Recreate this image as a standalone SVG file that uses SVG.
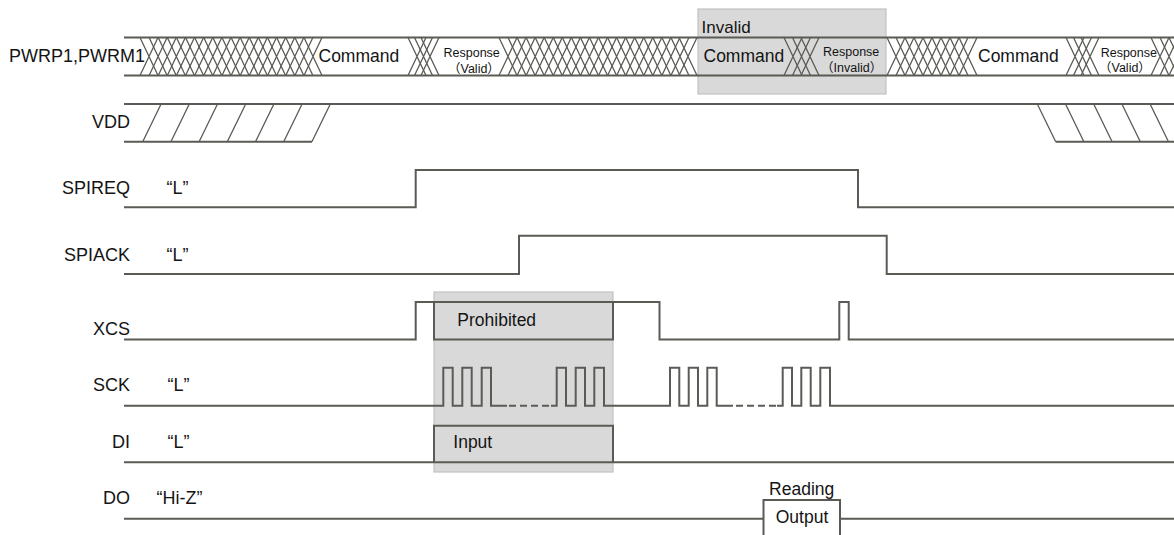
<svg xmlns="http://www.w3.org/2000/svg" xmlns:xlink="http://www.w3.org/1999/xlink" width="1174" height="535" viewBox="0 0 1174 535">
<style>
.ln{fill:none;stroke:#5b5b55;stroke-width:2;stroke-linejoin:miter;stroke-linecap:butt}
.hx{fill:none;stroke:#5b5b55;stroke-width:1.3}
.dash{fill:none;stroke:#5b5b55;stroke-width:2;stroke-dasharray:7 4}
.shade{fill:#d9d9d9;stroke:#c2c2c2;stroke-width:1.2}
.lbl{font-family:"Liberation Sans",Arial,sans-serif;font-size:18px;fill:#141414;text-anchor:end}
.lv{font-family:"Liberation Sans",Arial,sans-serif;font-size:18px;fill:#141414}
.val{font-family:"Liberation Sans",Arial,sans-serif;font-size:17.5px;fill:#141414}
.sm{font-family:"Liberation Sans","Noto Sans CJK SC",Arial,sans-serif;font-size:12.5px;fill:#141414}
</style>
<defs>
<path id="xx" d="M0,37.5 L18,75.5 M18,37.5 L0,75.5" class="hx"/>
</defs>

<g id="shading">
<rect class="shade" x="698" y="9" width="188" height="85"/>
<rect class="shade" x="434" y="292" width="179" height="180"/>
</g>

<g id="labels">
<text class="lv" x="9" y="62">PWRP1,PWRM1</text>
<text class="lbl" x="130" y="127.5">VDD</text>
<text class="lbl" x="130" y="194">SPIREQ</text>
<text class="lbl" x="130" y="260.5">SPIACK</text>
<text class="lbl" x="130" y="334.5">XCS</text>
<text class="lbl" x="130" y="391">SCK</text>
<text class="lbl" x="130" y="447.7">DI</text>
<text class="lbl" x="130" y="504.3">DO</text>
<text class="lv" x="166.5" y="194">“L”</text>
<text class="lv" x="166.5" y="260.5">“L”</text>
<text class="lv" x="167.5" y="391">“L”</text>
<text class="lv" x="167.5" y="447.7">“L”</text>
<text class="lv" x="156.5" y="504.3">“Hi-Z”</text>
</g>

<g id="bus">
<path class="ln" d="M124,37.5 H1174 M124,75.5 H1174"/>
<g id="hatch1">
<use xlink:href="#xx" x="140"/><use xlink:href="#xx" x="149.11"/><use xlink:href="#xx" x="158.22"/><use xlink:href="#xx" x="167.33"/><use xlink:href="#xx" x="176.44"/><use xlink:href="#xx" x="185.56"/><use xlink:href="#xx" x="194.67"/><use xlink:href="#xx" x="203.78"/><use xlink:href="#xx" x="212.89"/><use xlink:href="#xx" x="222"/><use xlink:href="#xx" x="231.11"/><use xlink:href="#xx" x="240.22"/><use xlink:href="#xx" x="249.33"/><use xlink:href="#xx" x="258.44"/><use xlink:href="#xx" x="267.56"/><use xlink:href="#xx" x="276.67"/><use xlink:href="#xx" x="285.78"/><use xlink:href="#xx" x="294.89"/><use xlink:href="#xx" x="304"/>
</g>
<g id="hatch2">
<use xlink:href="#xx" x="408"/><use xlink:href="#xx" x="414.5"/><use xlink:href="#xx" x="421"/>
</g>
<g id="hatch3">
<use xlink:href="#xx" x="499"/><use xlink:href="#xx" x="508.05"/><use xlink:href="#xx" x="517.1"/><use xlink:href="#xx" x="526.15"/><use xlink:href="#xx" x="535.2"/><use xlink:href="#xx" x="544.25"/><use xlink:href="#xx" x="553.3"/><use xlink:href="#xx" x="562.35"/><use xlink:href="#xx" x="571.4"/><use xlink:href="#xx" x="580.45"/><use xlink:href="#xx" x="589.5"/><use xlink:href="#xx" x="598.55"/><use xlink:href="#xx" x="607.6"/><use xlink:href="#xx" x="616.65"/><use xlink:href="#xx" x="625.7"/><use xlink:href="#xx" x="634.75"/><use xlink:href="#xx" x="643.8"/><use xlink:href="#xx" x="652.85"/><use xlink:href="#xx" x="661.9"/><use xlink:href="#xx" x="670.95"/><use xlink:href="#xx" x="679"/>
</g>
<g id="hatch4">
<use xlink:href="#xx" x="784"/><use xlink:href="#xx" x="792.5"/><use xlink:href="#xx" x="801"/>
</g>
<g id="hatch5">
<use xlink:href="#xx" x="887"/><use xlink:href="#xx" x="896"/><use xlink:href="#xx" x="905"/><use xlink:href="#xx" x="914"/><use xlink:href="#xx" x="923"/><use xlink:href="#xx" x="932"/><use xlink:href="#xx" x="941"/><use xlink:href="#xx" x="950"/><use xlink:href="#xx" x="959"/>
</g>
<g id="hatch6">
<use xlink:href="#xx" x="1066"/><use xlink:href="#xx" x="1073.5"/><use xlink:href="#xx" x="1081"/>
</g>
<g id="hatch7">
<use xlink:href="#xx" x="1151"/><use xlink:href="#xx" x="1160"/><use xlink:href="#xx" x="1169"/>
</g>
<text class="val" x="318.5" y="61.5">Command</text>
<text class="sm" x="443.5" y="57.3">Response</text>
<text class="sm" x="448" y="73">（Valid）</text>
<text class="val" x="701.5" y="32.5" style="font-size:17px">Invalid</text>
<text class="val" x="703.5" y="61.5">Command</text>
<text class="sm" x="823" y="55.5">Response</text>
<text class="sm" x="821" y="71.5">（Invalid）</text>
<text class="val" x="978" y="61.5">Command</text>
<text class="sm" x="1100.7" y="57">Response</text>
<text class="sm" x="1099" y="72">（Valid）</text>
</g>

<g id="vdd">
<path class="ln" d="M124,104 H1174 M124,141.7 H312 M1055.7,141.7 H1174"/>
<path class="hx" d="M142.7,141.7 L161.1,104 M170.9,141.7 L189.3,104 M199.1,141.7 L217.5,104 M227.3,141.7 L245.7,104 M255.5,141.7 L273.9,104 M283.7,141.7 L302.1,104 M311.9,141.7 L330.3,104 M1037.3,104 L1055.7,141.7 M1065.5,104 L1083.9,141.7 M1093.7,104 L1112.1,141.7 M1121.9,104 L1140.3,141.7 M1150.1,104 L1168.5,141.7"/>
</g>

<g id="spireq">
<path class="ln" d="M124,207.3 H415.7 V170 H858 V207.3 H1174"/>
</g>

<g id="spiack">
<path class="ln" d="M124,274 H519 V235.7 H886.7 V274 H1174"/>
</g>

<g id="xcs">
<path class="ln" d="M124,339.5 H415.7 V302 H659.5 V339.5 H839.3 V302 H848.7 V339.5 H1174"/>
<path class="ln" d="M434,302 V339.5 H613 V302"/>
<text class="val" x="457.3" y="325.7">Prohibited</text>
</g>

<g id="sck">
<path class="ln" d="M124,405.7 H443.3 V367.7 H452.7 V405.7 H462.3 V367.7 H471.7 V405.7 H481.7 V367.7 H491 V405.7 H507"/>
<path class="dash" d="M509,405.7 H550"/>
<path class="ln" d="M551,405.7 H556.7 V367.7 H566 V405.7 H575.7 V367.7 H585 V405.7 H594.3 V367.7 H604 V405.7 H670 V367.7 H679.3 V405.7 H688.7 V367.7 H698 V405.7 H707.3 V367.7 H716.7 V405.7 H733"/>
<path class="dash" d="M736,405.7 H776"/>
<path class="ln" d="M777,405.7 H782.7 V367.7 H792 V405.7 H801.3 V367.7 H810.7 V405.7 H820.3 V367.7 H830 V405.7 H1174"/>
</g>

<g id="di">
<path class="ln" d="M124,462.3 H1174"/>
<path class="ln" d="M434,462.3 V425.7 H613 V462.3"/>
<text class="val" x="453.3" y="447.7">Input</text>
</g>

<g id="do">
<path class="ln" d="M124,518.7 H763.5 M840,518.7 H1174"/>
<rect x="763.5" y="500" width="76.5" height="50" fill="#ffffff" stroke="#5b5b55" stroke-width="2"/>
<text class="val" x="801.7" y="494.5" text-anchor="middle">Reading</text>
<text class="val" x="802" y="523.3" text-anchor="middle">Output</text>
</g>
</svg>
